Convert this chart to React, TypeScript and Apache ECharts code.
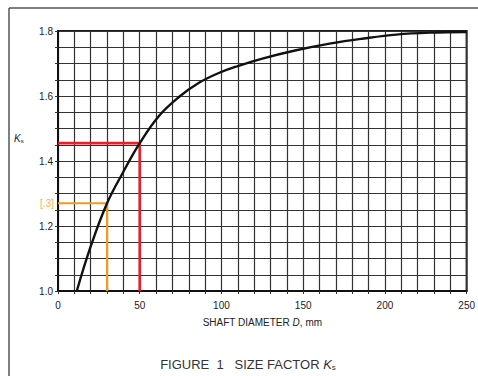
import React, { useEffect, useRef } from "react";
import * as echarts from "echarts";

const diameters = [11.5, 20, 30, 40, 50, 62, 74, 86, 98, 110, 125, 145, 167, 187, 207, 228, 250];
const ksValues = [1.0, 1.137, 1.27, 1.367, 1.455, 1.54, 1.597, 1.64, 1.67, 1.692, 1.715, 1.74, 1.762, 1.777, 1.789, 1.795, 1.797];
const redGuide = [[0, 1.455], [50, 1.455], [50, 1.0]];
const orangeGuide = [[0, 1.27], [30, 1.27], [30, 1.0]];
const orangeLabel = "[.3]";
const xTickLabels = [0, 50, 100, 150, 200, 250];
const yTickLabels = [1.0, 1.2, 1.4, 1.6, 1.8];

export default function App() {
  const ref = useRef<HTMLDivElement>(null);
  useEffect(() => {
    if (!ref.current) return;
    const chart = echarts.init(ref.current, null, { renderer: "svg" });
    const font = "'Liberation Sans', Arial, sans-serif";
    const curve = diameters.map((d, i) => [d, ksValues[i]]);
    chart.setOption({
      animation: false,
      backgroundColor: "#fff",
      textStyle: { fontFamily: font },
      grid: {
        left: 58,
        right: 8,
        top: 31,
        bottom: 85,
        show: true,
        borderColor: "#1a1a1a",
        borderWidth: 2,
        backgroundColor: "transparent",
      },
      title: {
        text: "FIGURE  1   SIZE FACTOR {i|K}{s|s}",
        left: 243,
        textAlign: "center",
        top: 352,
        textStyle: {
          fontFamily: font,
          fontSize: 13,
          fontWeight: "normal",
          color: "#333",
          rich: {
            i: { fontFamily: font, fontSize: 13, fontStyle: "italic", color: "#333" },
            s: { fontFamily: font, fontSize: 8, color: "#333", padding: [6, 0, 0, 0] },
          },
        },
      },
      xAxis: {
        type: "value",
        min: 0,
        max: 250,
        interval: 10,
        name: "SHAFT DIAMETER {i|D}, mm",
        nameLocation: "middle",
        nameGap: 26,
        nameTextStyle: {
          fontFamily: font,
          fontSize: 10,
          color: "#222",
          rich: { i: { fontFamily: font, fontSize: 10, fontStyle: "italic", color: "#222" } },
        },
        axisLine: { show: true, lineStyle: { color: "#111", width: 2 } },
        axisTick: { show: true, length: 3, lineStyle: { color: "#333" } },
        axisLabel: {
          margin: 9,
          fontSize: 10,
          color: "#222",
          formatter: (v: number) => (xTickLabels.includes(Math.round(v)) ? String(Math.round(v)) : ""),
        },
        splitLine: { show: true, lineStyle: { color: "#333", width: 1.2 } },
      },
      yAxis: {
        type: "value",
        min: 1.0,
        max: 1.8,
        interval: 0.05,
        axisLine: { show: true, lineStyle: { color: "#111", width: 2 } },
        axisTick: { show: true, length: 3, lineStyle: { color: "#333" } },
        axisLabel: {
          margin: 5,
          fontSize: 10,
          color: "#222",
          formatter: (v: number) => {
            const hit = yTickLabels.find((t) => Math.abs(t - v) < 1e-6);
            return hit !== undefined ? hit.toFixed(1) : "";
          },
        },
        splitLine: { show: true, lineStyle: { color: "#333", width: 1.2 } },
      },
      graphic: [
        { type: "line", shape: { x1: 9, y1: 8, x2: 9, y2: 376 }, style: { stroke: "#555", lineWidth: 1.5 } },
        { type: "line", shape: { x1: 9, y1: 8, x2: 478, y2: 8 }, style: { stroke: "#555", lineWidth: 1.5 } },
        {
          type: "text",
          x: 14,
          y: 133,
          style: {
            text: "{i|K}{s|s}",
            rich: {
              i: { fontFamily: font, fontSize: 10, fontStyle: "italic", fill: "#222" },
              s: { fontFamily: font, fontSize: 6, fill: "#222", padding: [5, 0, 0, 0] },
            },
          },
        },
      ],
      series: [
        {
          type: "line",
          data: orangeGuide,
          symbol: "none",
          lineStyle: { color: "#f29a1e", width: 2.2 },
          z: 3,
        },
        {
          type: "scatter",
          data: [orangeGuide[0]],
          symbolSize: 0,
          label: {
            show: true,
            position: "left",
            distance: 4,
            formatter: orangeLabel,
            color: "#f29a1e",
            fontSize: 10,
            fontFamily: font,
          },
          z: 3,
        },
        {
          type: "line",
          data: redGuide,
          symbol: "none",
          lineStyle: { color: "#e8202a", width: 2.6 },
          z: 4,
        },
        {
          type: "line",
          data: curve,
          symbol: "none",
          smooth: 0.4,
          lineStyle: { color: "#111", width: 2.4 },
          z: 5,
        },
      ],
    });
    return () => chart.dispose();
  }, []);
  return <div ref={ref} style={{ position: "fixed", left: 0, top: 0, width: 478, height: 376 }} />;
}
